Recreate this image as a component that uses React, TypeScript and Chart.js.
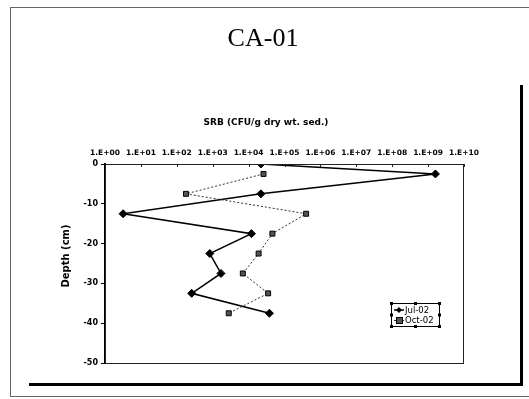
import React, { useEffect, useRef } from "react";
import { Chart, registerables } from "chart.js";

Chart.register(...registerables);

const slideTitle = "CA-01";
const chartTitle = "SRB (CFU/g dry wt. sed.)";
const yAxisTitle = "Depth (cm)";

const julLabel = "Jul-02";
const octLabel = "Oct-02";

const julDepth = [0, -2.5, -7.5, -12.5, -17.5, -22.5, -27.5, -32.5, -37.5];
const julSRB = [2.2e4, 1.6e9, 2.2e4, 3.2e0, 1.2e4, 8.3e2, 1.7e3, 2.6e2, 3.8e4];

const octDepth = [-2.5, -7.5, -12.5, -17.5, -22.5, -27.5, -32.5, -37.5];
const octSRB = [2.6e4, 1.8e2, 4.0e5, 4.6e4, 1.9e4, 6.9e3, 3.5e4, 2.8e3];

const xTickValues = [1e0, 1e1, 1e2, 1e3, 1e4, 1e5, 1e6, 1e7, 1e8, 1e9, 1e10];
const xTickLabels = [
  "1.E+00", "1.E+01", "1.E+02", "1.E+03", "1.E+04", "1.E+05",
  "1.E+06", "1.E+07", "1.E+08", "1.E+09", "1.E+10",
];
const yTickValues = [0, -10, -20, -30, -40, -50];

const decorPlugin = {
  id: "decor",
  beforeDraw(chart: any) {
    const ctx = chart.ctx;
    ctx.save();
    ctx.fillStyle = "#fff";
    ctx.fillRect(0, 0, chart.width, chart.height);
    // slide frame
    ctx.strokeStyle = "#666";
    ctx.lineWidth = 1;
    ctx.strokeRect(10.5, 7.5, 540, 389);
    // thick bars
    ctx.fillStyle = "#000";
    ctx.fillRect(29, 383, 494, 3);
    ctx.fillRect(520, 85, 3, 301);
    // titles
    ctx.fillStyle = "#000";
    ctx.textAlign = "center";
    ctx.textBaseline = "alphabetic";
    ctx.font = '26px "Liberation Serif"';
    ctx.fillText(slideTitle, 263, 46);
    ctx.font = 'bold 9px "DejaVu Sans"';
    ctx.fillText(chartTitle, 266, 125);
    // y axis title
    ctx.save();
    ctx.translate(66, 256);
    ctx.rotate(-Math.PI / 2);
    ctx.font = 'bold 10px "DejaVu Sans"';
    ctx.textBaseline = "middle";
    ctx.fillText(yAxisTitle, 0, 0);
    ctx.restore();
    ctx.restore();
  },
  afterDatasetsDraw(chart: any) {
    const ctx = chart.ctx;
    const a = chart.chartArea;
    ctx.save();
    ctx.strokeStyle = "#222";
    ctx.lineWidth = 1;
    ctx.strokeRect(a.left + 0.5, a.top + 0.5, a.right - a.left - 1, a.bottom - a.top);
    // inward ticks on top axis
    const xs = chart.scales.x;
    ctx.beginPath();
    xTickValues.forEach((v) => {
      const px = Math.round(xs.getPixelForValue(v)) + 0.5;
      ctx.moveTo(px, a.top);
      ctx.lineTo(px, a.top + 3);
    });
    ctx.stroke();
    // legend
    const lx = 391, ly = 303, lw = 48, lh = 23;
    ctx.fillStyle = "#fff";
    ctx.fillRect(lx, ly, lw, lh);
    ctx.strokeStyle = "#000";
    ctx.strokeRect(lx + 0.5, ly + 0.5, lw, lh);
    // handles
    ctx.fillStyle = "#000";
    [[lx, ly], [lx + lw / 2, ly], [lx + lw, ly], [lx, ly + lh / 2], [lx + lw, ly + lh / 2], [lx, ly + lh], [lx + lw / 2, ly + lh], [lx + lw, ly + lh]].forEach(([hx, hy]) => {
      ctx.fillRect(hx - 1, hy - 1, 3, 3);
    });
    // Jul sample
    const y1 = ly + 7, y2 = ly + 17;
    ctx.lineWidth = 1.5;
    ctx.beginPath();
    ctx.moveTo(lx + 3, y1);
    ctx.lineTo(lx + 13, y1);
    ctx.stroke();
    ctx.beginPath();
    ctx.moveTo(lx + 8, y1 - 3);
    ctx.lineTo(lx + 11, y1);
    ctx.lineTo(lx + 8, y1 + 3);
    ctx.lineTo(lx + 5, y1);
    ctx.closePath();
    ctx.fill();
    // Oct sample
    ctx.lineWidth = 1;
    ctx.strokeStyle = "#333";
    ctx.setLineDash([2, 2]);
    ctx.beginPath();
    ctx.moveTo(lx + 3, y2 + 0.5);
    ctx.lineTo(lx + 13, y2 + 0.5);
    ctx.stroke();
    ctx.setLineDash([]);
    ctx.fillStyle = "#555";
    ctx.fillRect(lx + 5.5, y2 - 2.5, 6, 6);
    ctx.strokeStyle = "#000";
    ctx.strokeRect(lx + 5.5, y2 - 2.5, 6, 6);
    ctx.fillStyle = "#000";
    ctx.font = '8.5px "DejaVu Sans"';
    ctx.textAlign = "left";
    ctx.textBaseline = "middle";
    ctx.fillText(julLabel, lx + 14, y1 + 0.5);
    ctx.fillText(octLabel, lx + 14, y2 + 0.5);
    ctx.restore();
  },
};

export default function App() {
  const ref = useRef<HTMLCanvasElement | null>(null);
  useEffect(() => {
    if (!ref.current) return;
    const chart = new Chart(ref.current, {
      type: "scatter",
      data: {
        datasets: [
          {
            label: octLabel,
            data: octSRB.map((v, i) => ({ x: v, y: octDepth[i] })),
            showLine: true,
            borderColor: "#333",
            borderWidth: 1,
            borderDash: [2, 2],
            pointStyle: "rect",
            pointRadius: 3.5,
            pointBackgroundColor: "#555",
            pointBorderColor: "#000",
            pointBorderWidth: 1,
          },
          {
            label: julLabel,
            data: julSRB.map((v, i) => ({ x: v, y: julDepth[i] })),
            showLine: true,
            borderColor: "#000",
            borderWidth: 1.5,
            pointStyle: "rectRot",
            pointRadius: 4,
            pointBackgroundColor: "#000",
            pointBorderColor: "#000",
            pointBorderWidth: 1,
          },
        ],
      },
      options: {
        animation: false,
        responsive: false,
        devicePixelRatio: 1,
        layout: { padding: { left: 75, top: 146, right: 65, bottom: 36 } },
        plugins: {
          legend: { display: false },
          tooltip: { enabled: false },
          title: { display: false },
        },
        scales: {
          x: {
            type: "logarithmic",
            position: "top",
            min: 1,
            max: 1e10,
            afterBuildTicks: (s: any) => {
              s.ticks = xTickValues.map((v) => ({ value: v }));
            },
            afterFit: (s: any) => {
              s.height = 18;
            },
            ticks: {
              autoSkip: false,
              maxRotation: 0,
              padding: 6,
              color: "#000",
              font: { family: "DejaVu Sans", size: 7.5, weight: "bold" },
              callback: (v: any) => {
                const i = xTickValues.indexOf(Number(v));
                return i >= 0 ? xTickLabels[i] : "";
              },
            },
            grid: { drawOnChartArea: false, drawTicks: false },
            border: { display: true, color: "#000", width: 1 },
          },
          y: {
            type: "linear",
            min: -50,
            max: 0,
            afterBuildTicks: (s: any) => {
              s.ticks = yTickValues.map((v) => ({ value: v }));
            },
            afterFit: (s: any) => {
              s.width = 30;
            },
            ticks: {
              padding: 3,
              color: "#000",
              font: { family: "DejaVu Sans", size: 8, weight: "bold" },
            },
            grid: { drawOnChartArea: false, drawTicks: true, tickLength: 4, color: "#000" },
            border: { display: true, color: "#000", width: 2 },
          },
        },
      },
      plugins: [decorPlugin],
    } as any);
    return () => chart.destroy();
  }, []);
  return (
    <div style={{ position: "fixed", left: 0, top: 0, width: 529, height: 399 }}>
      <canvas ref={ref} width={529} height={399} style={{ display: "block" }} />
    </div>
  );
}
